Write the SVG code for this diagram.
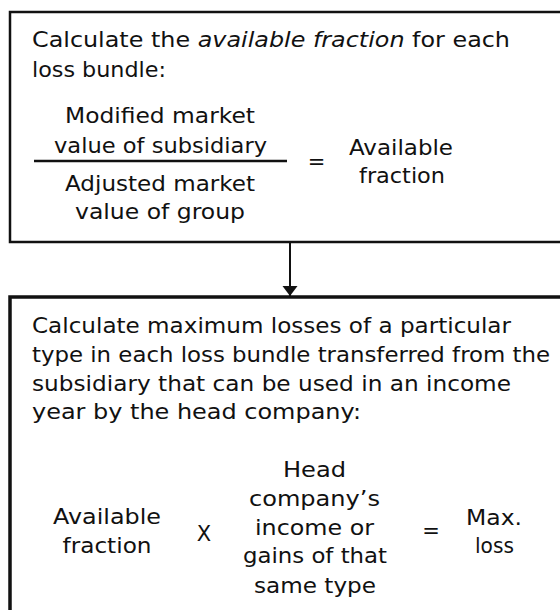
<svg xmlns="http://www.w3.org/2000/svg" width="560" height="610" viewBox="0 0 560 610">
  <style>
    .box { fill: #ffffff; stroke: #111111; }
    .t { font-family: "DejaVu Sans", "Liberation Sans", sans-serif; font-size: 21px; fill: #111111; }
    .c { text-anchor: middle; }
    .conn { stroke: #111111; stroke-width: 2; fill: none; }
  </style>
  <defs>
    <marker id="arrow" markerWidth="11" markerHeight="16" refX="10" refY="7.5" orient="auto" markerUnits="userSpaceOnUse" viewBox="0 0 11 16">
      <polygon points="0,0 10,7.5 0,15" fill="#111111"/>
    </marker>
  </defs>
  <rect width="560" height="610" fill="#ffffff"/>

  <g id="node-available-fraction">
    <rect class="box" x="10" y="12" width="600" height="230" stroke-width="2.5"/>
    <text class="t" x="32" y="47" textLength="478" lengthAdjust="spacingAndGlyphs">Calculate the <tspan font-style="italic">available fraction</tspan> for each</text>
    <text class="t" x="32" y="77" textLength="134" lengthAdjust="spacingAndGlyphs">loss bundle:</text>
    <text class="t" x="65" y="123" textLength="190" lengthAdjust="spacingAndGlyphs">Modified market</text>
    <text class="t" x="54" y="153" textLength="213" lengthAdjust="spacingAndGlyphs">value of subsidiary</text>
    <line x1="34" y1="161" x2="287" y2="161" stroke="#111111" stroke-width="2.5"/>
    <text class="t" x="65" y="191" textLength="190" lengthAdjust="spacingAndGlyphs">Adjusted market</text>
    <text class="t" x="75" y="219" textLength="170" lengthAdjust="spacingAndGlyphs">value of group</text>
    <text class="t c" x="316.5" y="169">=</text>
    <text class="t" x="349" y="155" textLength="104" lengthAdjust="spacingAndGlyphs">Available</text>
    <text class="t" x="359" y="183" textLength="86" lengthAdjust="spacingAndGlyphs">fraction</text>
  </g>

  <g id="node-maximum-losses">
    <rect class="box" x="10" y="297" width="600" height="400" stroke-width="3.5"/>
    <text class="t" x="32" y="333" textLength="479" lengthAdjust="spacingAndGlyphs">Calculate maximum losses of a particular</text>
    <text class="t" x="32" y="362" textLength="518" lengthAdjust="spacingAndGlyphs">type in each loss bundle transferred from the</text>
    <text class="t" x="32" y="391" textLength="479" lengthAdjust="spacingAndGlyphs">subsidiary that can be used in an income</text>
    <text class="t" x="32" y="419" textLength="329" lengthAdjust="spacingAndGlyphs">year by the head company:</text>
    <text class="t" x="53" y="524" textLength="108" lengthAdjust="spacingAndGlyphs">Available</text>
    <text class="t" x="62.5" y="553" textLength="89" lengthAdjust="spacingAndGlyphs">fraction</text>
    <text class="t c" x="204" y="541">X</text>
    <text class="t" x="283" y="477" textLength="63" lengthAdjust="spacingAndGlyphs">Head</text>
    <text class="t" x="249" y="506" textLength="131" lengthAdjust="spacingAndGlyphs">company’s</text>
    <text class="t" x="255" y="535" textLength="119" lengthAdjust="spacingAndGlyphs">income or</text>
    <text class="t" x="243" y="563" textLength="144" lengthAdjust="spacingAndGlyphs">gains of that</text>
    <text class="t" x="254" y="593" textLength="122" lengthAdjust="spacingAndGlyphs">same type</text>
    <text class="t c" x="431" y="538">=</text>
    <text class="t" x="466" y="525" textLength="56" lengthAdjust="spacingAndGlyphs">Max.</text>
    <text class="t" x="475" y="553" textLength="39" lengthAdjust="spacingAndGlyphs">loss</text>
  </g>

  <g id="connectors">
    <line class="conn" x1="290" y1="243" x2="290" y2="296" marker-end="url(#arrow)"/>
  </g>
</svg>
